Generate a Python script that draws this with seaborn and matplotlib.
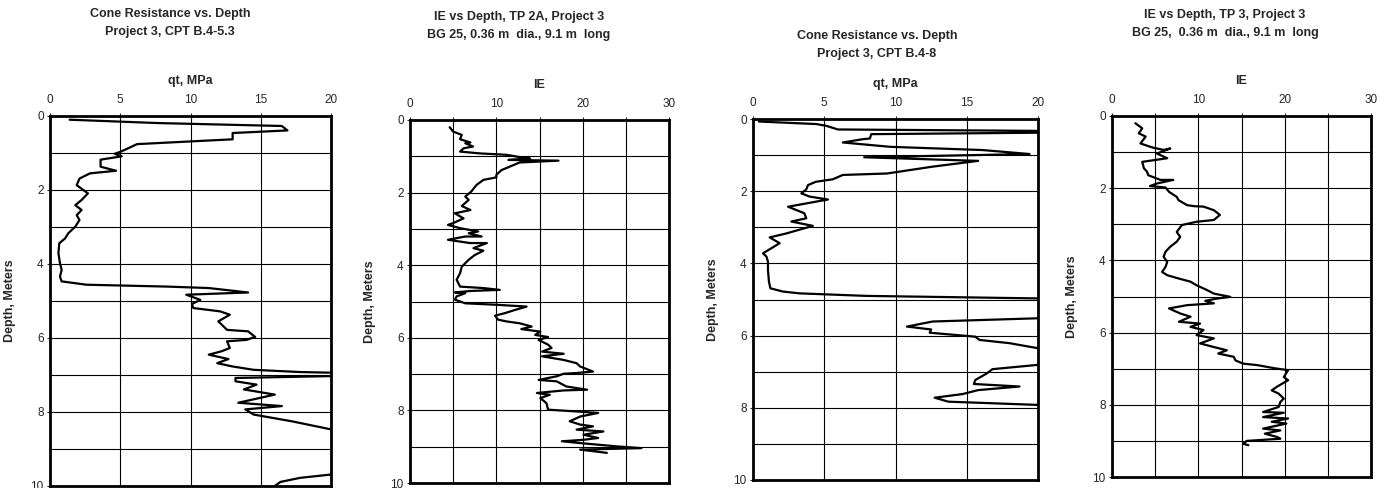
import numpy as np
import pandas as pd
import matplotlib
matplotlib.use("Agg")
import matplotlib.pyplot as plt
import seaborn as sns
from matplotlib.ticker import MultipleLocator

# CPT B.4-5.3 (qt, MPa) -- values beyond 20 run off the chart
cpt1_depth = [0.10, 0.19, 0.27, 0.39, 0.46, 0.63, 0.76, 0.97, 1.02, 1.09, 1.18, 1.37, 1.48, 1.55,
              1.69, 1.78, 1.87, 2.09, 2.27, 2.41, 2.54, 2.68, 2.81, 2.99, 3.17, 3.31, 3.44, 3.71,
              3.98, 4.16, 4.34, 4.47, 4.56, 4.61, 4.65, 4.77, 4.83, 4.97, 5.08, 5.19, 5.28, 5.37,
              5.55, 5.78, 5.82, 5.97, 6.05, 6.09, 6.27, 6.36, 6.45, 6.57, 6.68, 6.77, 6.86, 6.92,
              6.97, 7.03, 7.08, 7.17, 7.26, 7.39, 7.53, 7.75, 7.84, 7.93, 8.07, 8.25, 8.47, 8.9,
              9.4, 9.69, 9.78, 9.89, 10.0]
cpt1_qt = [1.4, 7.6, 16.5, 16.9, 13.0, 13.0, 6.2, 5.0, 4.6, 5.1, 3.6, 3.6, 4.7, 2.85,
           2.1, 2.0, 1.9, 2.7, 2.25, 1.8, 2.25, 1.9, 2.1, 1.8, 1.3, 1.07, 0.66, 0.6,
           0.71, 0.83, 0.71, 0.83, 2.6, 8.3, 11.3, 14.1, 9.7, 10.7, 10.1, 10.2, 12.1, 12.8,
           11.98, 12.6, 14.1, 14.6, 14.0, 12.6, 12.8, 12.2, 11.3, 12.7, 11.9, 13.0, 14.5, 17.8,
           24.0, 20.0, 13.2, 13.2, 14.7, 13.8, 16.0, 13.4, 16.5, 13.9, 14.5, 17.2, 20.0, 24.0,
           24.0, 20.0, 17.8, 16.4, 16.0]

# IE, TP 2A
tp2a_depth = [0.20, 0.32, 0.41, 0.53, 0.62, 0.64, 0.73, 0.78, 0.87, 0.92, 0.96, 1.03, 1.06, 1.10,
              1.12, 1.17, 1.28, 1.38, 1.51, 1.58, 1.65, 1.79, 1.97, 2.11, 2.20, 2.37, 2.48, 2.57,
              2.71, 2.84, 2.89, 2.98, 3.07, 3.12, 3.21, 3.21, 3.30, 3.39, 3.39, 3.53, 3.60, 3.72,
              3.85, 4.04, 4.22, 4.40, 4.59, 4.63, 4.68, 4.71, 4.75, 4.77, 4.86, 4.95, 5.05, 5.09,
              5.14, 5.23, 5.32, 5.39, 5.50, 5.55, 5.60, 5.69, 5.76, 5.83, 5.92, 5.98, 6.06, 6.19,
              6.28, 6.38, 6.44, 6.51, 6.61, 6.70, 6.79, 6.93, 6.97, 6.99, 7.06, 7.16, 7.20, 7.34,
              7.43, 7.45, 7.52, 7.57, 7.66, 7.80, 7.98, 8.03, 8.07, 8.17, 8.30, 8.39, 8.44, 8.53,
              8.58, 8.67, 8.76, 8.81, 8.85, 8.90, 8.99, 9.04, 9.08, 9.17]
tp2a_ie = [4.6, 5.0, 6.0, 5.8, 7.0, 6.4, 7.3, 6.2, 5.8, 8.1, 11.2, 12.9, 13.9, 11.4,
           17.2, 12.7, 11.6, 10.6, 10.0, 10.0, 8.5, 7.7, 7.1, 6.4, 6.8, 6.0, 7.0, 5.2,
           6.2, 5.0, 4.4, 5.8, 7.9, 6.8, 8.3, 6.4, 4.4, 6.95, 8.9, 7.35, 8.5, 7.5,
           6.8, 6.0, 5.8, 5.4, 5.8, 8.5, 10.4, 7.0, 5.2, 6.4, 5.4, 5.2, 6.4, 10.0,
           13.5, 12.2, 11.0, 9.85, 10.2, 11.2, 12.7, 14.1, 12.9, 15.1, 14.5, 16.0, 14.9, 16.0,
           16.4, 15.3, 17.8, 15.3, 17.8, 19.3, 19.7, 21.2, 19.3, 17.8, 17.0, 14.9, 17.0, 18.1,
           20.5, 17.8, 14.7, 16.2, 15.1, 15.8, 16.0, 19.3, 21.8, 19.7, 18.5, 19.7, 21.2, 19.3,
           22.4, 20.1, 21.8, 20.1, 17.6, 19.7, 23.9, 26.8, 19.7, 22.8]

# CPT B.4-8 (qt, MPa)
cpt2_depth = [0.07, 0.14, 0.19, 0.29, 0.34, 0.38, 0.42, 0.54, 0.56, 0.65, 0.77, 0.86, 0.97, 1.06,
              1.16, 1.32, 1.51, 1.55, 1.67, 1.74, 1.83, 1.95, 2.06, 2.15, 2.23, 2.43, 2.61, 2.75,
              2.84, 2.96, 3.17, 3.28, 3.44, 3.58, 3.72, 3.81, 3.95, 4.18, 4.51, 4.69, 4.78, 4.83,
              4.90, 4.97, 5.25, 5.52, 5.61, 5.75, 5.83, 5.92, 6.03, 6.12, 6.21, 6.35, 6.6, 6.81,
              6.93, 7.05, 7.23, 7.34, 7.41, 7.51, 7.62, 7.72, 7.83, 7.92, 8.05]
cpt2_qt = [0.42, 4.44, 5.15, 5.96, 24.0, 20.0, 8.3, 8.2, 7.7, 6.3, 9.6, 16.1, 19.4, 7.8,
           15.8, 12.6, 9.4, 6.3, 5.6, 4.4, 3.86, 3.74, 3.39, 3.98, 5.26, 2.46, 3.6, 3.74,
           2.69, 4.2, 2.34, 1.17, 1.87, 1.29, 0.7, 0.94, 1.05, 1.05, 1.12, 1.22, 2.1, 3.27,
           7.95, 20.0, 26.0, 20.0, 12.6, 10.8, 12.5, 12.4, 15.6, 15.9, 18.0, 20.0, 26.0, 20.0,
           16.8, 16.4, 15.6, 15.5, 18.7, 15.8, 14.7, 12.75, 13.7, 20.0, 26.0]

# IE, TP 3
tp3_depth = [0.20, 0.34, 0.48, 0.57, 0.76, 0.85, 0.88, 0.94, 0.90, 1.04, 1.17, 1.27, 1.45, 1.54,
             1.64, 1.77, 1.77, 1.87, 1.94, 1.98, 2.10, 2.24, 2.33, 2.47, 2.50, 2.51, 2.61, 2.74,
             2.88, 2.93, 3.02, 3.21, 3.35, 3.48, 3.62, 3.76, 3.90, 4.04, 4.18, 4.32, 4.41, 4.50,
             4.59, 4.69, 4.82, 4.92, 5.01, 5.06, 5.12, 5.19, 5.24, 5.33, 5.47, 5.56, 5.70, 5.75,
             5.84, 5.93, 6.07, 6.16, 6.30, 6.40, 6.49, 6.58, 6.67, 6.77, 6.86, 6.90, 6.99, 7.04,
             7.23, 7.32, 7.50, 7.60, 7.69, 7.83, 7.92, 8.06, 8.20, 8.22, 8.34, 8.38, 8.47, 8.52,
             8.66, 8.71, 8.80, 8.89, 8.94, 9.00, 9.08, 9.12]
tp3_ie = [2.7, 3.5, 3.1, 3.9, 3.3, 4.4, 4.8, 6.0, 6.75, 5.2, 6.4, 3.5, 3.7, 4.05,
          4.2, 5.6, 7.1, 5.2, 4.4, 6.2, 6.6, 7.5, 7.7, 8.7, 9.6, 10.6, 11.8, 12.5,
          11.8, 9.8, 8.1, 7.5, 7.9, 7.5, 6.75, 6.2, 5.98, 6.4, 6.2, 5.8, 6.4, 7.7,
          9.1, 9.8, 10.99, 11.8, 13.7, 12.1, 10.8, 11.8, 8.7, 6.6, 7.9, 9.1, 7.75, 10.2,
          9.1, 10.6, 9.8, 11.8, 10.2, 11.8, 13.3, 12.3, 14.1, 14.3, 15.2, 16.8, 18.9, 20.4,
          19.9, 20.4, 19.1, 18.5, 19.3, 19.9, 19.5, 19.3, 17.5, 19.9, 17.5, 20.4, 18.5, 20.2,
          17.5, 19.5, 17.7, 19.1, 19.5, 15.6, 15.2, 15.8]

titles = ["Cone Resistance vs. Depth\nProject 3, CPT B.4-5.3",
          "IE vs Depth, TP 2A, Project 3\nBG 25, 0.36 m  dia., 9.1 m  long",
          "Cone Resistance vs. Depth\nProject 3, CPT B.4-8",
          "IE vs Depth, TP 3, Project 3\nBG 25,  0.36 m  dia., 9.1 m  long"]
xlabels = ["qt, MPa", "IE", "qt, MPa", "IE"]
xmax = [20, 30, 20, 30]
series = [(cpt1_depth, cpt1_qt), (tp2a_depth, tp2a_ie), (cpt2_depth, cpt2_qt), (tp3_depth, tp3_ie)]

sns.set_style("white")
plt.rcParams['font.family'] = ['Liberation Sans', 'DejaVu Sans']

W, H = 1393, 488
fig = plt.figure(figsize=(W / 100, H / 100), dpi=100)

# axes boxes in pixels: left, right, top, bottom
boxes = [(50, 331, 116, 486), (410, 669, 120, 483), (753, 1038, 119, 480), (1112, 1371, 116, 477)]
title_pos = [(170, 23), (519, 26), (877, 45), (1225, 24)]

for i, (l, r, t, b) in enumerate(boxes):
    ax = fig.add_axes([l / W, (H - b) / H, (r - l) / W, (b - t) / H])
    depth, val = series[i]
    df = pd.DataFrame({"depth": depth, "value": val})
    sns.lineplot(data=df, x="value", y="depth", sort=False, estimator=None,
                 color="black", linewidth=1.6, ax=ax)
    ax.set_xlim(0, xmax[i])
    ax.set_ylim(10, 0)
    ax.xaxis.tick_top()
    ax.xaxis.set_label_position("top")
    if xmax[i] == 20:
        ax.xaxis.set_major_locator(MultipleLocator(5))
    else:
        ax.xaxis.set_major_locator(MultipleLocator(10))
        ax.xaxis.set_minor_locator(MultipleLocator(5))
    ax.yaxis.set_major_locator(MultipleLocator(2))
    ax.yaxis.set_minor_locator(MultipleLocator(1))
    ax.grid(True, which="both", color="black", linewidth=0.8)
    ax.set_axisbelow(True)
    for s in ax.spines.values():
        s.set_linewidth(2.0)
        s.set_color("black")
    ax.tick_params(which="both", direction="inout", length=5, width=0.8, labelsize=8.5,
                   top=True, bottom=False, left=True, right=False)
    ax.tick_params(axis="x", pad=5)
    ax.tick_params(axis="y", pad=2)
    ax.tick_params(which="minor", length=0, top=True)
    if xmax[i] == 30:
        ax.tick_params(axis="x", which="minor", length=5)
    ax.set_xlabel(xlabels[i], fontsize=9, fontweight="bold", labelpad=7)
    ax.set_ylabel("Depth, Meters", fontsize=9, fontweight="bold")
    ax.yaxis.set_label_coords(-34 / (r - l), 0.5)
    tx, ty = title_pos[i]
    fig.text(tx / W, 1 - ty / H, titles[i], ha="center", va="center",
             fontsize=9, fontweight="bold", linespacing=1.6)

fig.savefig("out.png", dpi=100)
